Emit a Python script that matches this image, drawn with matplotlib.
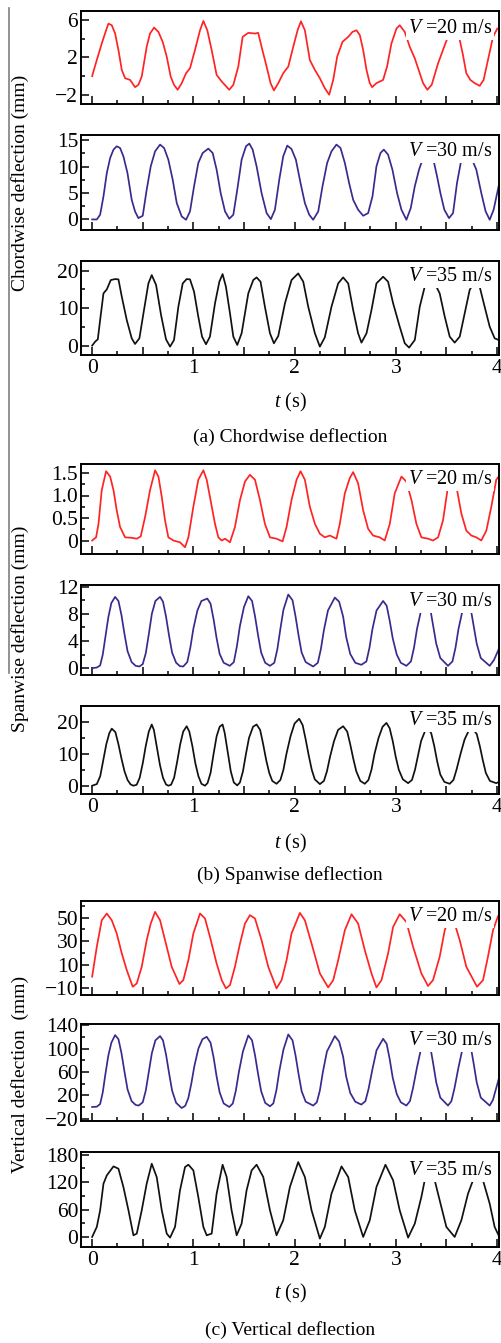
import matplotlib
matplotlib.use("Agg")
import matplotlib.pyplot as plt
from matplotlib.ticker import MultipleLocator, FixedLocator, FuncFormatter
from matplotlib.lines import Line2D

plt.rcParams['font.family'] = ['Liberation Serif', 'DejaVu Serif']
plt.rcParams['mathtext.fontset'] = 'custom'
plt.rcParams['mathtext.rm'] = 'Liberation Serif'
plt.rcParams['mathtext.it'] = 'Liberation Serif:italic'

# ---------------- chordwise deflection (mm) ----------------
c20_t = [0, 0.046, 0.095, 0.138, 0.161, 0.194, 0.227, 0.26, 0.293, 0.326, 0.375, 0.424, 0.457, 0.49,
         0.539, 0.572, 0.612, 0.655, 0.697, 0.737, 0.776, 0.809, 0.845, 0.885, 0.928, 0.967, 1.016,
         1.066, 1.099, 1.138, 1.181, 1.23, 1.28, 1.355, 1.395, 1.444, 1.487, 1.543, 1.609, 1.641,
         1.674, 1.724, 1.763, 1.796, 1.839, 1.888, 1.938, 1.987, 2.03, 2.063, 2.102, 2.151, 2.201,
         2.25, 2.299, 2.342, 2.382, 2.421, 2.474, 2.53, 2.572, 2.612, 2.645, 2.678, 2.711, 2.743,
         2.766, 2.809, 2.875, 2.914, 2.957, 3.007, 3.039, 3.089, 3.138, 3.188, 3.237, 3.27, 3.312,
         3.355, 3.418, 3.49, 3.536, 3.576, 3.618, 3.661, 3.697, 3.737, 3.78, 3.829, 3.868, 3.911,
         3.961, 4.003]
c20_v = [0.0, 1.73, 3.5, 4.93, 5.64, 5.47, 4.58, 2.8, 0.66, -0.23, -0.41, -1.19, -0.94, -0.05,
         3.15, 4.58, 5.22, 4.75, 3.69, 2.09, -0.05, -0.94, -1.47, -0.76, 0.31, 0.84, 2.8,
         4.93, 5.93, 4.93, 2.8, 0.13, -0.58, -1.47, -0.94, 1.02, 4.22, 4.65, 4.58, 4.65,
         3.15, 1.02, -0.76, -1.54, -0.76, 0.31, 1.02, 3.15, 4.93, 5.89, 4.93, 1.73, 0.66,
         -0.23, -1.3, -2.0, -0.41, 2.09, 3.69, 4.22, 4.75, 4.93, 4.4, 2.8, 0.66, -0.76,
         -1.19, -0.76, -0.41, 1.02, 3.5, 5.11, 5.47, 4.75, 3.15, 1.91, 0.31, -0.76, -1.47,
         -0.94, 1.37, 3.5, 4.75, 5.29, 4.58, 2.44, 0.31, -0.41, -0.76, -1.05, -0.41, 1.73,
         4.22, 5.11]

c30_t = [0, 0.046, 0.079, 0.112, 0.145, 0.178, 0.211, 0.243, 0.276, 0.309, 0.349, 0.391, 0.424,
         0.457, 0.5, 0.539, 0.579, 0.622, 0.671, 0.711, 0.753, 0.796, 0.836, 0.885, 0.928, 0.967,
         1.007, 1.049, 1.092, 1.148, 1.191, 1.23, 1.27, 1.313, 1.355, 1.395, 1.434, 1.477, 1.52,
         1.553, 1.586, 1.625, 1.674, 1.724, 1.766, 1.806, 1.849, 1.888, 1.928, 1.97, 2.013, 2.059,
         2.102, 2.145, 2.184, 2.234, 2.276, 2.322, 2.365, 2.414, 2.454, 2.497, 2.539, 2.579, 2.628,
         2.678, 2.727, 2.77, 2.809, 2.849, 2.882, 2.924, 2.967, 3.013, 3.056, 3.105, 3.148, 3.188,
         3.23, 3.27, 3.319, 3.368, 3.408, 3.441, 3.48, 3.526, 3.566, 3.605, 3.648, 3.697, 3.747,
         3.796, 3.845, 3.888, 3.928, 3.967, 4.016]
c30_v = [0.0, 0.0, 0.89, 4.37, 8.8, 11.65, 13.23, 13.86, 13.54, 11.96, 8.8, 3.73, 1.52,
         0.25, 0.7, 5.63, 10.06, 12.91, 14.18, 13.54, 11.33, 7.53, 3.1, 0.57, -0.06, 1.52,
         6.27, 10.7, 12.59, 13.42, 12.59, 9.43, 5.0, 1.52, 0.13, 0.89, 5.63, 11.33, 13.86,
         14.37, 13.23, 10.06, 5.0, 1.2, 0.06, 1.84, 7.53, 11.96, 13.99, 13.35, 11.33, 6.9,
         3.1, 0.89, -0.06, 1.52, 6.27, 10.7, 12.91, 14.18, 13.54, 10.7, 6.9, 3.73, 1.84,
         0.7, 1.2, 4.37, 10.06, 12.59, 13.23, 12.28, 9.43, 5.0, 1.84, -0.06, 2.15, 6.27,
         9.43, 11.65, 13.86, 11.65, 8.16, 5.0, 1.84, 0.25, 1.2, 6.9, 11.33, 13.54, 11.65,
         9.43, 5.0, 1.52, -0.06, 1.84, 6.27]

c35_t = [0, 0.03, 0.056, 0.079, 0.112, 0.145, 0.184, 0.227, 0.26, 0.293, 0.342, 0.391, 0.424,
         0.467, 0.507, 0.556, 0.589, 0.632, 0.681, 0.73, 0.77, 0.809, 0.852, 0.895, 0.934, 0.967,
         1.007, 1.049, 1.086, 1.125, 1.164, 1.214, 1.257, 1.289, 1.322, 1.362, 1.395, 1.434, 1.477,
         1.543, 1.592, 1.625, 1.664, 1.707, 1.757, 1.796, 1.839, 1.905, 1.97, 2.036, 2.086, 2.135,
         2.201, 2.25, 2.299, 2.365, 2.431, 2.48, 2.53, 2.579, 2.628, 2.661, 2.711, 2.76, 2.809,
         2.875, 2.924, 2.974, 3.039, 3.089, 3.132, 3.188, 3.237, 3.286, 3.336, 3.385, 3.434, 3.484,
         3.533, 3.582, 3.632, 3.681, 3.73, 3.78, 3.829, 3.878, 3.928, 3.977, 4.016]
c35_v = [0.0, 1.07, 1.69, 6.84, 13.96, 15.02, 17.51, 17.78, 17.69, 13.07, 6.84, 1.96, 0.44,
         1.96, 8.62, 16.62, 18.84, 16.18, 8.18, 1.69, -0.27, 1.51, 10.4, 16.62, 17.78, 17.69,
         14.4, 7.73, 2.4, 0.36, 2.4, 11.29, 17.07, 19.11, 15.73, 8.62, 2.4, 0.18, 3.29,
         13.96, 17.51, 18.22, 17.07, 10.4, 3.29, 0.62, 2.58, 11.29, 17.51, 19.29, 17.07, 10.4,
         3.29, -0.27, 2.22, 10.4, 16.62, 18.22, 16.62, 9.51, 3.29, 0.8, 3.29, 9.51, 16.62,
         18.4, 17.07, 11.29, 5.07, 0.62, -0.53, 1.51, 10.4, 15.73, 17.96, 16.62, 13.96, 7.73,
         2.4, 0.8, 2.4, 8.62, 14.84, 17.33, 15.73, 10.4, 5.07, 1.96, 1.51]

# ---------------- spanwise deflection (mm) ----------------
s20_t = [0, 0.039, 0.063, 0.095, 0.138, 0.178, 0.211, 0.243, 0.276, 0.326, 0.391, 0.441, 0.48,
         0.523, 0.572, 0.622, 0.655, 0.688, 0.72, 0.753, 0.803, 0.868, 0.918, 0.951, 1.0, 1.049,
         1.099, 1.132, 1.164, 1.214, 1.247, 1.28, 1.313, 1.362, 1.411, 1.461, 1.51, 1.559, 1.609,
         1.658, 1.707, 1.757, 1.822, 1.882, 1.921, 1.97, 2.02, 2.059, 2.102, 2.151, 2.201, 2.25,
         2.299, 2.349, 2.414, 2.447, 2.497, 2.546, 2.579, 2.628, 2.678, 2.727, 2.776, 2.842, 2.891,
         2.941, 2.99, 3.056, 3.105, 3.155, 3.204, 3.253, 3.319, 3.368, 3.418, 3.467, 3.516, 3.556,
         3.599, 3.648, 3.697, 3.747, 3.796, 3.845, 3.895, 3.944, 3.993, 4.016]
s20_v = [0.0, 0.07, 0.37, 1.12, 1.54, 1.42, 1.12, 0.67, 0.3, 0.07, 0.06, 0.04, 0.09,
         0.52, 1.12, 1.56, 1.42, 0.97, 0.45, 0.07, 0.0, -0.04, -0.15, 0.07, 0.75, 1.35,
         1.56, 1.35, 0.97, 0.37, 0.07, 0.0, 0.04, -0.04, 0.3, 0.9, 1.31, 1.46, 1.35,
         0.9, 0.37, 0.07, 0.04, -0.02, 0.3, 0.9, 1.35, 1.54, 1.35, 0.75, 0.37, 0.15,
         0.07, 0.11, 0.04, 0.37, 1.05, 1.39, 1.52, 1.27, 0.67, 0.26, 0.11, 0.07, 0.0,
         0.37, 1.05, 1.42, 1.31, 0.9, 0.37, 0.07, 0.04, 0.0, 0.07, 0.45, 1.2, 1.5,
         1.2, 0.6, 0.22, 0.11, 0.07, 0.0, 0.22, 0.75, 1.35, 1.42]

s30_t = [0, 0.046, 0.079, 0.105, 0.13, 0.16, 0.19, 0.227, 0.26, 0.29, 0.32, 0.35, 0.39, 0.43,
         0.467, 0.5, 0.53, 0.56, 0.59, 0.625, 0.671, 0.7, 0.73, 0.76, 0.79, 0.83, 0.868, 0.9,
         0.94, 0.97, 1.0, 1.04, 1.08, 1.138, 1.17, 1.2, 1.23, 1.26, 1.3, 1.36, 1.4, 1.43, 1.46,
         1.5, 1.543, 1.58, 1.61, 1.64, 1.67, 1.71, 1.757, 1.8, 1.83, 1.86, 1.89, 1.938, 1.98,
         2.01, 2.04, 2.07, 2.11, 2.184, 2.23, 2.26, 2.29, 2.33, 2.398, 2.44, 2.48, 2.51, 2.55,
         2.6, 2.66, 2.71, 2.74, 2.77, 2.81, 2.875, 2.91, 2.94, 2.97, 3.01, 3.05, 3.105, 3.15,
         3.18, 3.21, 3.25, 3.3, 3.34, 3.37, 3.4, 3.44, 3.516, 3.56, 3.59, 3.62, 3.66, 3.7,
         3.74, 3.77, 3.8, 3.84, 3.928, 3.97, 4.016]
s30_v = [0.0, 0.1, 0.4, 2.0, 4.5, 7.5, 9.6, 10.5, 9.9, 7.8, 5.0, 2.5, 0.9, 0.35,
         0.25, 0.6, 2.2, 5.0, 8.0, 9.9, 10.5, 9.8, 7.6, 4.8, 2.3, 0.8, 0.3, 0.25,
         0.9, 3.0, 5.8, 8.5, 9.9, 10.25, 9.5, 7.2, 4.4, 2.1, 0.8, 0.35, 0.9, 3.2, 6.2,
         9.0, 10.6, 9.9, 7.6, 4.8, 2.3, 0.8, 0.35, 0.8, 2.8, 5.8, 8.6, 10.85, 10.0,
         7.6, 4.8, 2.3, 0.9, 0.25, 0.8, 2.8, 5.6, 8.5, 10.4, 9.8, 7.6, 4.6, 2.1,
         0.8, 0.5, 1.0, 3.0, 5.8, 8.5, 9.9, 9.2, 7.0, 4.4, 2.0, 0.8, 0.35, 1.0,
         3.0, 5.8, 8.5, 10.0, 8.8, 6.2, 3.6, 1.5, 0.35, 1.0, 3.0, 5.8, 8.5, 10.0,
         8.8, 6.2, 3.6, 1.5, 0.35, 1.2, 2.75]

s35_t = [0, 0.046, 0.08, 0.11, 0.14, 0.17, 0.194, 0.23, 0.26, 0.29, 0.32, 0.35, 0.38, 0.408,
         0.44, 0.47, 0.5, 0.53, 0.56, 0.589, 0.61, 0.64, 0.67, 0.7, 0.73, 0.753, 0.78, 0.81,
         0.84, 0.87, 0.9, 0.934, 0.96, 0.99, 1.02, 1.05, 1.08, 1.115, 1.14, 1.17, 1.2, 1.23,
         1.26, 1.289, 1.31, 1.34, 1.37, 1.4, 1.434, 1.46, 1.49, 1.52, 1.55, 1.59, 1.625, 1.66,
         1.69, 1.72, 1.75, 1.78, 1.822, 1.86, 1.89, 1.92, 1.96, 2.0, 2.046, 2.08, 2.11, 2.14,
         2.17, 2.2, 2.25, 2.29, 2.32, 2.35, 2.39, 2.43, 2.48, 2.52, 2.55, 2.58, 2.61, 2.65,
         2.694, 2.73, 2.76, 2.79, 2.83, 2.87, 2.908, 2.94, 2.97, 3.0, 3.03, 3.07, 3.122, 3.16,
         3.19, 3.22, 3.25, 3.29, 3.319, 3.35, 3.38, 3.41, 3.44, 3.48, 3.533, 3.57, 3.6, 3.64,
         3.68, 3.72, 3.763, 3.8, 3.83, 3.86, 3.89, 3.93, 3.993, 4.02]
s35_v = [0.0, 0.5, 3.0, 8.0, 13.0, 16.5, 17.9, 16.8, 13.0, 8.5, 4.5, 1.8, 0.4, 0.0,
         0.3, 2.5, 7.0, 12.5, 17.0, 19.2, 17.5, 12.0, 6.5, 2.5, 0.4, 0.0, 0.3, 2.5,
         7.5, 13.0, 17.0, 18.65, 17.0, 12.5, 7.0, 3.0, 0.6, 0.0, 0.8, 4.0, 10.0, 15.5,
         18.5, 19.2, 16.5, 10.5, 4.5, 1.0, 0.1, 1.0, 4.5, 10.0, 15.0, 18.5, 19.2, 17.5,
         13.0, 8.0, 4.0, 1.5, 0.6, 1.8, 5.0, 10.0, 15.5, 19.5, 21.0, 19.0, 14.5, 9.5,
         5.0, 2.0, 0.5, 1.5, 4.5, 9.0, 14.0, 17.5, 18.65, 17.0, 13.0, 8.5, 4.5, 1.5,
         0.6, 1.8, 5.0, 10.0, 15.0, 18.5, 19.7, 18.0, 14.0, 9.0, 5.0, 2.0, 0.8, 1.8,
         5.0, 9.5, 14.0, 17.2, 17.8, 16.5, 12.5, 7.5, 3.5, 1.2, 0.6, 1.8, 5.0, 10.0,
         14.5, 17.2, 17.8, 16.2, 12.5, 8.0, 4.0, 1.5, 0.8, 1.2]

# ---------------- vertical deflection (mm) ----------------
v20_t = [0, 0.046, 0.095, 0.145, 0.194, 0.243, 0.293, 0.342, 0.401, 0.441, 0.49, 0.539, 0.579,
         0.622, 0.671, 0.737, 0.786, 0.862, 0.901, 0.951, 1.0, 1.066, 1.115, 1.164, 1.23, 1.28,
         1.322, 1.362, 1.411, 1.461, 1.51, 1.559, 1.609, 1.674, 1.74, 1.822, 1.872, 1.921, 1.97,
         2.053, 2.102, 2.168, 2.25, 2.332, 2.382, 2.431, 2.497, 2.563, 2.628, 2.694, 2.76, 2.809,
         2.859, 2.924, 2.974, 3.039, 3.105, 3.171, 3.253, 3.319, 3.368, 3.434, 3.484, 3.539, 3.582,
         3.632, 3.697, 3.803, 3.862, 3.911, 3.961, 4.01]
v20_v = [-0.1, 25.2, 47.7, 53.4, 47.7, 36.5, 19.6, 5.5, -8.6, -5.8, 8.3, 30.8, 44.9,
         54.8, 47.7, 25.2, 8.3, -6.3, -3.0, 13.9, 36.5, 53.4, 49.2, 33.7, 11.1, -3.0,
         -10.0, -7.2, 8.3, 28.0, 44.9, 52.0, 49.2, 30.8, 8.3, -10.0, -3.0, 13.9, 36.5,
         53.9, 47.7, 28.0, 2.7, -9.2, -3.0, 13.9, 39.3, 52.8, 44.9, 22.4, 2.7, -9.2,
         -3.0, 19.6, 42.1, 52.8, 46.3, 25.2, 2.7, -8.0, -3.0, 16.8, 39.3, 52.0, 44.9,
         30.8, 8.3, -8.6, -3.0, 16.8, 39.3, 51.1]

v30_t = [0, 0.046, 0.079, 0.105, 0.13, 0.16, 0.19, 0.227, 0.26, 0.29, 0.32, 0.35, 0.39, 0.43,
         0.46, 0.5, 0.53, 0.56, 0.59, 0.625, 0.671, 0.7, 0.73, 0.76, 0.79, 0.83, 0.885, 0.92,
         0.95, 0.98, 1.01, 1.05, 1.09, 1.132, 1.17, 1.2, 1.23, 1.26, 1.3, 1.355, 1.39, 1.42,
         1.45, 1.49, 1.543, 1.58, 1.61, 1.64, 1.67, 1.71, 1.757, 1.79, 1.82, 1.85, 1.89, 1.938,
         1.98, 2.01, 2.04, 2.07, 2.11, 2.184, 2.22, 2.25, 2.28, 2.32, 2.398, 2.44, 2.48, 2.51,
         2.55, 2.6, 2.66, 2.7, 2.73, 2.77, 2.81, 2.875, 2.91, 2.94, 2.97, 3.01, 3.05, 3.105,
         3.14, 3.17, 3.21, 3.25, 3.3, 3.34, 3.37, 3.4, 3.44, 3.516, 3.55, 3.58, 3.62, 3.66,
         3.7, 3.74, 3.77, 3.8, 3.84, 3.928, 3.96, 4.016]
v30_v = [0, 0.5, 5, 25, 55, 88, 110, 123, 116, 92, 60, 30, 10, 3.5,
         2.4, 8, 28, 60, 92, 114, 121.3, 114, 90, 58, 28, 7, -1.8, 2,
         15, 40, 70, 100, 116, 120.1, 110, 85, 52, 25, 6, 0, 6, 28,
         60, 95, 122.4, 114, 88, 56, 27, 7, 1.2, 6, 28, 62, 98, 124.1,
         114, 88, 56, 27, 9, 2.4, 8, 28, 60, 95, 121.3, 112, 86, 52,
         24, 9, 4.1, 10, 30, 65, 97, 116.7, 108, 82, 50, 22, 8, 2.4,
         10, 32, 68, 100, 118, 104, 74, 42, 16, 2.4, 10, 32, 68, 100,
         118, 104, 74, 42, 16, 2.4, 12, 47]

v35_t = [0, 0.046, 0.079, 0.112, 0.145, 0.211, 0.26, 0.309, 0.359, 0.408, 0.441, 0.49, 0.539,
         0.589, 0.638, 0.688, 0.737, 0.77, 0.819, 0.868, 0.918, 0.951, 1.0, 1.049, 1.099, 1.132,
         1.181, 1.23, 1.289, 1.329, 1.378, 1.428, 1.477, 1.526, 1.576, 1.625, 1.691, 1.757, 1.822,
         1.888, 1.954, 2.036, 2.102, 2.168, 2.25, 2.299, 2.365, 2.464, 2.53, 2.595, 2.678, 2.743,
         2.809, 2.898, 2.974, 3.039, 3.122, 3.188, 3.253, 3.286, 3.336, 3.385, 3.434, 3.5, 3.582,
         3.648, 3.714, 3.763, 3.812, 3.862, 3.928, 3.977, 4.016]
v35_v = [0, 21.9, 58.3, 116.6, 134.8, 154.5, 149.4, 109.3, 58.3, 3.6, 7.3, 58.3, 116.6,
         160.3, 131.2, 58.3, 7.3, -1.5, 21.9, 102.0, 153.1, 158.2, 145.8, 87.5, 21.9, 3.6,
         7.3, 94.8, 158.2, 131.2, 58.3, 3.6, 29.2, 102.0, 145.8, 158.2, 131.2, 58.3, 3.6,
         36.4, 109.3, 164.0, 131.2, 58.3, -3.6, 21.9, 94.8, 154.5, 131.2, 58.3, 0.0, 36.4,
         109.3, 158.2, 123.9, 58.3, -1.5, 29.2, 87.5, 123.9, 153.1, 123.9, 80.2, 21.9, 0.0,
         36.4, 94.8, 123.9, 153.1, 123.9, 72.9, 21.9, 3.6]

speed_labels = ['20', '30', '35']
group_titles = ['(a) Chordwise deflection', '(b) Spanwise deflection', '(c) Vertical deflection']
group_ylabels = ['Chordwise deflection (mm)', 'Spanwise deflection (mm)', 'Vertical deflection  (mm)']

series = [(c20_t, c20_v), (c30_t, c30_v), (c35_t, c35_v),
          (s20_t, s20_v), (s30_t, s30_v), (s35_t, s35_v),
          (v20_t, v20_v), (v30_t, v30_v), (v35_t, v35_v)]

# y-axis settings per panel: limits, labelled ticks, unlabelled ticks, decimals
y_limits = [(-3, 7), (-2, 16), (-2.5, 22.6),
            (-0.3, 1.7), (-1, 12.25), (-2.6, 25),
            (-15.6, 64), (-24, 142), (-22, 186)]
y_major = [[-2, 2, 6], [0, 5, 10, 15], [0, 10, 20],
           [0, 0.5, 1.0, 1.5], [0, 4, 8, 12], [0, 10, 20],
           [-10, 10, 30, 50], [-20, 20, 60, 100, 140], [0, 60, 120, 180]]
y_minor = [[0, 4], [2.5, 7.5, 12.5], [5, 15],
           [0.25, 0.75, 1.25], [2, 6, 10], [5, 15],
           [0, 20, 40, 60], [0, 40, 80, 120], [30, 90, 150]]
y_decimals = [0, 0, 0, 1, 0, 0, 0, 0, 0]

colors = ['#ff2323', '#3b2a8e', '#111111']

W, H = 502, 1343
fig = plt.figure(figsize=(W / 100, H / 100), dpi=100)
fig.patch.set_facecolor('white')

# panel frames in pixel rows (top, bottom)
rows = [(11, 104), (135, 230), (261, 355),
        (464, 554), (585, 675), (706, 794),
        (901, 995), (1024, 1121), (1152, 1247)]
left_px, right_px = 81, 499
label_y = [0.81, 0.83, 0.84, 0.833, 0.82, 0.83, 0.84, 0.825, 0.81]


def make_y_formatter(decimals):
    def fmt(val, pos):
        if abs(val) < 1e-9:
            return '0'
        s = ('%.' + str(decimals) + 'f') % val
        return s.replace('-', '\u2212')
    return FuncFormatter(fmt)


def fmt_x(val, pos):
    if abs(val - round(val)) < 1e-9:
        return '%d' % round(val)
    return ''


for i, (top, bot) in enumerate(rows):
    ax = fig.add_axes([left_px / W, 1 - bot / H, (right_px - left_px) / W, (bot - top) / H])
    t, v = series[i]
    ax.plot(t, v, color=colors[i % 3], lw=1.25, solid_joinstyle='round')
    ax.set_xlim(-0.11, 4.02)
    ax.set_ylim(*y_limits[i])
    ax.yaxis.set_major_locator(FixedLocator(y_major[i]))
    ax.yaxis.set_minor_locator(FixedLocator(y_minor[i]))
    ax.yaxis.set_major_formatter(make_y_formatter(y_decimals[i]))
    ax.xaxis.set_major_locator(MultipleLocator(0.5))
    ax.xaxis.set_minor_locator(MultipleLocator(0.25))
    if i % 3 == 2:
        ax.xaxis.set_major_formatter(FuncFormatter(fmt_x))
    else:
        ax.xaxis.set_major_formatter(FuncFormatter(lambda val, pos: ''))
    ax.tick_params(axis='both', which='major', direction='in', length=5.5, width=1.1,
                   labelsize=15.5, pad=2, top=False, right=False)
    ax.tick_params(axis='both', which='minor', direction='in', length=3, width=1.1,
                   top=False, right=False)
    ax.tick_params(axis='x', which='major', pad=3)
    for sp in ax.spines.values():
        sp.set_linewidth(1.4)
    ax.text(0.983, label_y[i], r'$V$ =' + speed_labels[i % 3] + ' m/s', transform=ax.transAxes,
            ha='right', va='center', fontsize=14.5,
            bbox=dict(facecolor='white', edgecolor='none', pad=1.5))

cx = (left_px + right_px) / 2 / W
xlabel_rows = [402, 843, 1293]
title_rows = [437, 875, 1330]
for g in range(3):
    fig.text(cx, 1 - xlabel_rows[g] / H, r'$t$ (s)', ha='center', va='center', fontsize=14.5)
    fig.text(cx, 1 - title_rows[g] / H, group_titles[g], ha='center', va='center', fontsize=14)
    top = rows[3 * g][0]
    bot = rows[3 * g + 2][1]
    fig.text(20 / W, 1 - (top + bot) / 2 / H, group_ylabels[g], rotation=90,
             ha='center', va='center', fontsize=14)

# thin gray rule along the left margin
fig.add_artist(Line2D([9 / W, 9 / W], [1 - 8 / H, 1 - 673 / H], transform=fig.transFigure,
                      color='#7f7f7f', lw=1.2))

fig.savefig('out.png', dpi=100, facecolor='white')
